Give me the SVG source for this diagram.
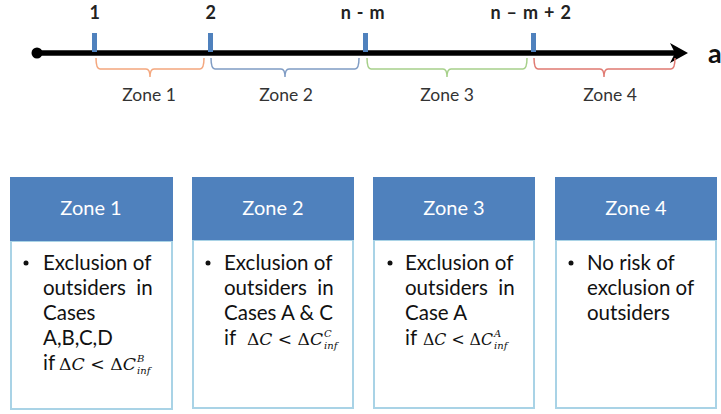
<svg xmlns="http://www.w3.org/2000/svg" width="721" height="414" viewBox="0 0 721 414">
<style>
.lbl{font-family:Lato,"Open Sans","Liberation Sans",sans-serif;font-weight:bold;font-size:18px;letter-spacing:0.8px;fill:#222;text-anchor:middle}
.zl{font-family:Lato,"Open Sans","Liberation Sans",sans-serif;font-size:17.5px;fill:#333;text-anchor:middle}
.hd{fill:#4f81bd}
.bd{fill:#fff;stroke:#a9d3e6;stroke-width:2}
.ht{font-family:Lato,"Open Sans","Liberation Sans",sans-serif;font-size:20px;fill:#fff;text-anchor:middle}
.bt{font-family:Lato,"Open Sans","Liberation Sans",sans-serif;font-size:20.5px;fill:#111;white-space:pre}
.mt{font-family:"DejaVu Serif","Liberation Serif",serif;font-size:16px;fill:#111}
.ms{font-family:"DejaVu Serif","Liberation Serif",serif;font-size:10px;font-style:italic;fill:#111}
.tick{fill:#4f81bd}
.br{fill:none;stroke-width:1.5}
</style>
<rect width="721" height="414" fill="#fff"/>
<g id="axis">
<line x1="37" y1="53" x2="676" y2="53" stroke="#000" stroke-width="5.5"/>
<circle cx="37" cy="53" r="5.5" fill="#000"/>
<path d="M670,43 L688,53 L670,63 L675,53 Z" fill="#000"/>
<text x="708" y="63" font-family="Lato,'Open Sans',sans-serif" font-size="27" font-weight="bold" fill="#111">a</text>
<rect class="tick" x="92" y="33" width="5" height="19"/>
<rect class="tick" x="208" y="33" width="5" height="19"/>
<rect class="tick" x="363" y="33" width="5" height="19"/>
<rect class="tick" x="531" y="33" width="5" height="19"/>
<text class="lbl" x="95" y="19">1</text>
<text class="lbl" x="211" y="19">2</text>
<text class="lbl" x="363" y="19">n - m</text>
<text class="lbl" x="531" y="19">n – m + 2</text>
</g>
<g id="braces">
<path class="br" stroke="#f4a77e" d="M96,58 Q96,69 100,69 L146,69 Q150,69 150,77 Q150,69 154,69 L200,69 Q204,69 204,58"/>
<path class="br" stroke="#7f9cc4" d="M211,58 Q211,69 215,69 L281,69 Q285,69 285,77 Q285,69 289,69 L355,69 Q359,69 359,58"/>
<path class="br" stroke="#a6d08a" d="M367,58 Q367,69 371,69 L443,69 Q447,69 447,77 Q447,69 451,69 L523,69 Q527,69 527,58"/>
<path class="br" stroke="#e07a72" d="M534,58 Q534,69 538,69 L600,69 Q604,69 604,77 Q604,69 608,69 L671,69 Q675,69 675,58"/>
<text class="zl" x="149" y="101">Zone 1</text>
<text class="zl" x="286" y="101">Zone 2</text>
<text class="zl" x="447" y="101">Zone 3</text>
<text class="zl" x="610" y="101">Zone 4</text>
</g>
<g id="zone1">
<rect class="bd" x="11" y="241" width="161" height="168"/>
<rect class="hd" x="10" y="177" width="163" height="64"/>
<text class="ht" x="91" y="215">Zone 1</text>
<circle cx="26" cy="263" r="2.5" fill="#111"/>
<text class="bt" x="43" y="270">Exclusion of</text>
<text class="bt" x="43" y="295">outsiders  in</text>
<text class="bt" x="43" y="320">Cases</text>
<text class="bt" x="43" y="345">A,B,C,D</text>
<text class="bt" x="43" y="370">if</text>
<text class="mt" x="59" y="370" textLength="77" lengthAdjust="spacingAndGlyphs">Δ<tspan font-style="italic">C</tspan> &lt; Δ<tspan font-style="italic">C</tspan></text>
<text class="ms" x="137" y="362">B</text>
<text class="ms" x="137" y="374">inf</text>
</g>
<g id="zone2">
<rect class="bd" x="193" y="240" width="160" height="168"/>
<rect class="hd" x="192" y="177" width="162" height="63"/>
<text class="ht" x="273" y="215">Zone 2</text>
<circle cx="208" cy="263" r="2.5" fill="#111"/>
<text class="bt" x="224" y="270">Exclusion of</text>
<text class="bt" x="224" y="295">outsiders  in</text>
<text class="bt" x="224" y="320">Cases A &amp; C</text>
<text class="bt" x="224" y="345">if</text>
<text class="mt" x="247" y="345" textLength="76" lengthAdjust="spacingAndGlyphs">Δ<tspan font-style="italic">C</tspan> &lt; Δ<tspan font-style="italic">C</tspan></text>
<text class="ms" x="324" y="337">C</text>
<text class="ms" x="324" y="349">inf</text>
</g>
<g id="zone3">
<rect class="bd" x="374" y="240" width="160" height="168"/>
<rect class="hd" x="373" y="177" width="162" height="63"/>
<text class="ht" x="454" y="215">Zone 3</text>
<circle cx="390" cy="263" r="2.5" fill="#111"/>
<text class="bt" x="405" y="270">Exclusion of</text>
<text class="bt" x="405" y="295">outsiders  in</text>
<text class="bt" x="405" y="320">Case A</text>
<text class="bt" x="405" y="345">if</text>
<text class="mt" x="423" y="345" textLength="70" lengthAdjust="spacingAndGlyphs">Δ<tspan font-style="italic">C</tspan> &lt; Δ<tspan font-style="italic">C</tspan></text>
<text class="ms" x="494" y="337">A</text>
<text class="ms" x="494" y="349">inf</text>
</g>
<g id="zone4">
<rect class="bd" x="556" y="240" width="160" height="168"/>
<rect class="hd" x="555" y="177" width="162" height="63"/>
<text class="ht" x="636" y="215">Zone 4</text>
<circle cx="571" cy="263" r="2.5" fill="#111"/>
<text class="bt" x="587" y="270">No risk of</text>
<text class="bt" x="587" y="295">exclusion of</text>
<text class="bt" x="587" y="320">outsiders</text>
</g>
</svg>
